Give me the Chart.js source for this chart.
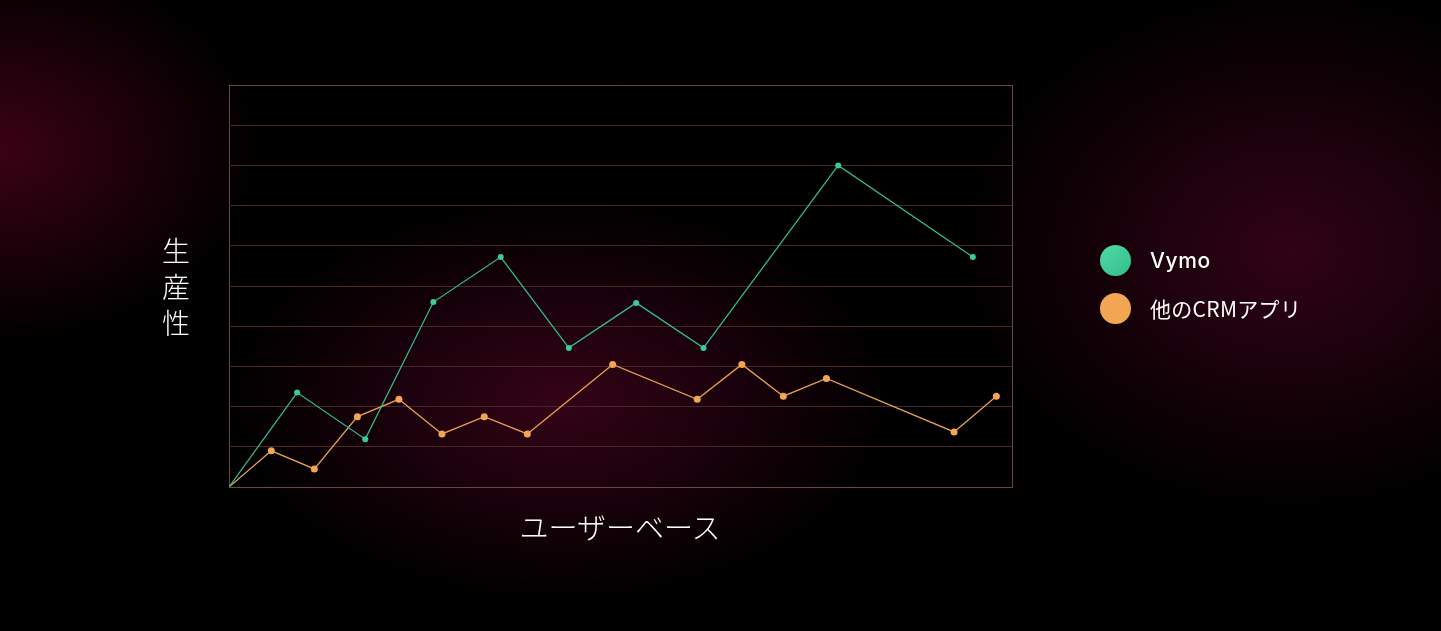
<!DOCTYPE html>
<html>
<head>
<meta charset="utf-8">
<script src="https://cdn.jsdelivr.net/npm/chart.js@4"></script>
<style>
  html, body { margin:0; padding:0; width:1441px; height:631px; overflow:hidden; background:#000; }
  body {
    background:
      radial-gradient(ellipse 260px 190px at 0px 150px, rgba(62,2,22,0.95), rgba(62,2,22,0) 100%),
      radial-gradient(ellipse 330px 200px at 560px 400px, rgba(55,3,24,0.95), rgba(55,3,24,0) 100%),
      radial-gradient(ellipse 330px 260px at 1290px 250px, rgba(52,3,22,0.95), rgba(52,3,22,0) 100%),
      #000;
    position:relative;
    font-family: "Noto Sans CJK JP", "Noto Sans", sans-serif;
  }
  #wrap { position:absolute; left:0; top:0; width:1441px; height:631px; }
  .ytitle { position:absolute; left:161px; top:232px; width:30px; color:#fff; font-size:28px; line-height:36px; text-align:center; font-weight:300; }
  .xtitle { position:absolute; left:420px; width:400px; top:506px; color:#fff; font-size:29px; line-height:40px; text-align:center; font-weight:300; }
  .leg { position:absolute; left:1100px; height:32px; display:flex; align-items:center; color:#fff; font-size:21px; }
  .dot { width:31px; height:31px; border-radius:50%; margin-right:19px; }
  .leg .t1 { font-family: Inter, "Noto Sans", sans-serif; font-weight:500; font-size:21px; letter-spacing:0.6px; }
  .leg .t2 { font-weight:400; letter-spacing:0.3px; }
</style>
</head>
<body>
<div id="wrap"><canvas id="c" width="1441" height="631"></canvas></div>
<div class="ytitle">生<br>産<br>性</div>
<div class="xtitle">ユーザーベース</div>
<div class="leg" style="top:244px;"><div class="dot" style="background:linear-gradient(135deg,#52d9a8,#2fbf8a);"></div><span class="t1">Vymo</span></div>
<div class="leg" style="top:292px;"><div class="dot" style="background:linear-gradient(135deg,#f5a45a,#f0a84a);"></div><span class="t2">他のCRMアプリ</span></div>
<script>
const seriesNames = ['Vymo', '他のCRMアプリ'];
const vymoX = [0, 8.7, 17.4, 26.1, 34.7, 43.4, 52.0, 60.6, 77.8, 95.0];
const vymoY = [0, 2.35, 1.19, 4.6, 5.72, 3.46, 4.58, 3.46, 8.0, 5.72];
const crmX  = [0, 5.4, 10.9, 16.4, 21.7, 27.2, 32.6, 38.1, 49.0, 59.8, 65.5, 70.8, 76.3, 92.6, 98.0];
const crmY  = [0, 0.9, 0.45, 1.75, 2.18, 1.32, 1.75, 1.32, 3.05, 2.18, 3.05, 2.26, 2.7, 1.37, 2.26];
const xRange = [0, 100];
const yRange = [0, 10];

function pts(xs, ys) { return xs.map((x, i) => ({ x: x, y: ys[i] })); }
const hideFirst = (r) => (ctx) => ctx.dataIndex === 0 ? 0 : r;

new Chart(document.getElementById('c'), {
  type: 'line',
  data: {
    datasets: [
      { label: seriesNames[0], data: pts(vymoX, vymoY), borderColor: '#36b98c', backgroundColor: '#3ccb98',
        borderWidth: 1.3, pointRadius: hideFirst(3), pointBorderWidth: 0, tension: 0 },
      { label: seriesNames[1], data: pts(crmX, crmY), borderColor: '#e9a055', backgroundColor: '#f2a553',
        borderWidth: 1.3, pointRadius: hideFirst(3.5), pointBorderWidth: 0, tension: 0 }
    ]
  },
  options: {
    responsive: false,
    animation: false,
    layout: { padding: { left: 229, top: 85, right: 429, bottom: 144 } },
    plugins: { legend: { display: false }, tooltip: { enabled: false } },
    scales: {
      x: {
        type: 'linear', min: xRange[0], max: xRange[1],
        ticks: { display: false, stepSize: 100 },
        grid: { color: '#6a4644', lineWidth: 1, drawTicks: false },
        border: { display: true, color: '#6a4644', width: 1 }
      },
      y: {
        min: yRange[0], max: yRange[1],
        ticks: { display: false, stepSize: 1 },
        grid: { color: (ctx) => (ctx.tick && ctx.tick.value === 10) ? '#6a4048' : '#4a2628', lineWidth: 1, drawTicks: false },
        border: { display: false }
      }
    }
  }
});
</script>
</body>
</html>
